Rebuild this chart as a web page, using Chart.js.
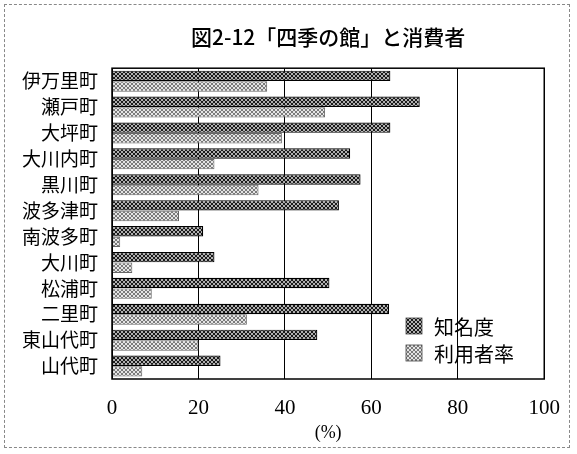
<!DOCTYPE html>
<html lang="ja">
<head>
<meta charset="utf-8">
<title>図2-12「四季の館」と消費者</title>
<script src="https://cdn.jsdelivr.net/npm/chart.js@4.4.1/dist/chart.umd.min.js"></script>
<style>
    html, body { margin: 0; padding: 0; background: #fff; }
    #wrap { position: relative; width: 577px; height: 454px; }
    #frame { position: absolute; left: 4px; top: 4px; width: 566px; height: 444px; border: 1px dashed #888; box-sizing: border-box; pointer-events: none; }
</style>
</head>
<body>
<div id="wrap">
    <canvas id="grafic" width="577" height="454"></canvas>
    <div id="frame"></div>
</div>
<script>
// Dades del gràfic
const categories = ["伊万里町", "瀬戸町", "大坪町", "大川内町", "黒川町", "波多津町", "南波多町", "大川町", "松浦町", "二里町", "東山代町", "山代町"];
const chimeido = [64.4, 71.2, 64.4, 55.1, 57.5, 52.5, 21.1, 23.7, 50.3, 64.1, 47.5, 25.1];
const riyousha = [35.9, 49.3, 39.3, 23.7, 33.9, 15.5, 1.9, 4.7, 9.2, 31.2, 20.0, 7.0];
const seriesNames = ["知名度", "利用者率"];
const xTicks = [0, 20, 40, 60, 80, 100];

// Crea un patró de trama creuada
function tramat(fons, linia) {
    const c = document.createElement("canvas");
    c.width = 4;
    c.height = 4;
    const g = c.getContext("2d");
    g.fillStyle = fons;
    g.fillRect(0, 0, 4, 4);
    g.fillStyle = linia;
    for (let i = 0; i < 4; i++) {
        g.fillRect(i, i, 1, 1);
        g.fillRect(3 - i, i, 1, 1);
    }
    return g.createPattern(c, "repeat");
}

const patroFosc = tramat("#b0b0b0", "#1a1a1a");
const patroClar = tramat("#e4e4e4", "#7a7a7a");

// Marc de l'àrea del gràfic i llegenda dins de l'àrea
const marcPlugin = {
    id: "marc",
    afterDraw(chart) {
        const ctx = chart.ctx;
        const a = chart.chartArea;
        ctx.save();
        ctx.strokeStyle = "#000";
        ctx.lineWidth = 1.5;
        ctx.strokeRect(a.left, a.top, a.right - a.left, a.bottom - a.top);

        const patrons = [patroFosc, patroClar];
        const x = 406;
        let y = 318;
        ctx.font = "20px 'Noto Sans CJK JP'";
        ctx.textBaseline = "middle";
        chart.data.datasets.forEach((ds, i) => {
            ctx.fillStyle = patrons[i];
            ctx.fillRect(x, y, 16, 16);
            ctx.strokeStyle = "#444";
            ctx.lineWidth = 0.8;
            ctx.strokeRect(x, y, 16, 16);
            ctx.fillStyle = "#000";
            ctx.fillText(ds.label, x + 28, y + 9);
            y += 27;
        });
        ctx.restore();
    }
};

const ctx = document.getElementById("grafic").getContext("2d");
new Chart(ctx, {
    type: "bar",
    data: {
        labels: categories,
        datasets: [{
            label: seriesNames[0],
            data: chimeido,
            backgroundColor: patroFosc,
            borderColor: "#000",
            borderWidth: 1.2,
            categoryPercentage: 0.82,
            barPercentage: 0.98
        }, {
            label: seriesNames[1],
            data: riyousha,
            backgroundColor: patroClar,
            borderColor: "#666",
            borderWidth: 1,
            categoryPercentage: 0.82,
            barPercentage: 0.98
        }]
    },
    options: {
        indexAxis: "y",
        responsive: false,
        animation: false,
        layout: { padding: { left: 0, right: 30, top: 0, bottom: 0 } },
        plugins: {
            legend: { display: false },
            tooltip: { enabled: false },
            title: {
                display: true,
                text: "図2-12「四季の館」と消費者",
                fullSize: false,
                color: "#000",
                font: { family: "'Noto Sans CJK JP'", size: 21, weight: "500" },
                padding: { top: 24, bottom: 19 }
            }
        },
        scales: {
            x: {
                min: 0,
                max: 100,
                afterBuildTicks(scale) {
                    scale.ticks = xTicks.map(v => ({ value: v }));
                },
                afterFit(scale) {
                    scale.height = 75;
                },
                grid: { color: "#000", lineWidth: 1, drawTicks: false },
                border: { display: false },
                ticks: {
                    color: "#000",
                    padding: 17,
                    font: { family: "'Liberation Serif'", size: 21 }
                },
                title: {
                    display: true,
                    text: "(%)",
                    color: "#000",
                    padding: { top: 4, bottom: 10 },
                    font: { family: "'Liberation Serif'", size: 18 }
                }
            },
            y: {
                afterFit(scale) {
                    scale.width = 112;
                },
                grid: { display: false },
                border: { display: false },
                ticks: {
                    color: "#000",
                    padding: 6,
                    font: { family: "'Noto Sans CJK JP'", size: 19 }
                }
            }
        }
    },
    plugins: [marcPlugin]
});
</script>
</body>
</html>
